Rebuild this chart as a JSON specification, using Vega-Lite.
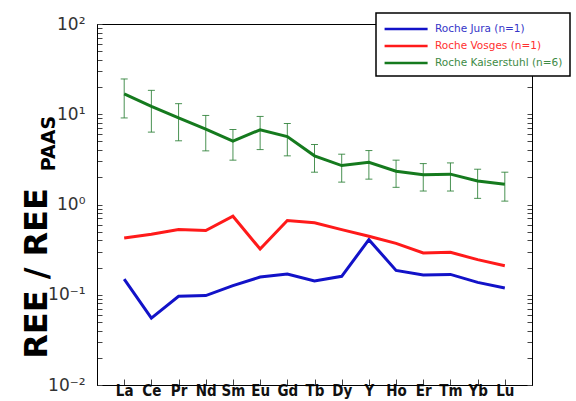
{
  "$schema": "https://vega.github.io/schema/vega-lite/v6.json",
  "width": 435,
  "height": 361,
  "autosize": {"type": "none"},
  "padding": {"left": 97, "top": 24, "right": 44, "bottom": 16},
  "background": "white",
  "config": {
    "view": {"stroke": "#000", "strokeWidth": 1},
    "axis": {"domainColor": "#000", "tickColor": "#444", "grid": false},
    "legend": {"strokeWidth": 1.5}
  },
  "datasets": {
    "ree": [
      {"el": "La", "series": "Roche Jura (n=1)", "v": 0.149},
      {"el": "Ce", "series": "Roche Jura (n=1)", "v": 0.055},
      {"el": "Pr", "series": "Roche Jura (n=1)", "v": 0.096},
      {"el": "Nd", "series": "Roche Jura (n=1)", "v": 0.098},
      {"el": "Sm", "series": "Roche Jura (n=1)", "v": 0.126},
      {"el": "Eu", "series": "Roche Jura (n=1)", "v": 0.157},
      {"el": "Gd", "series": "Roche Jura (n=1)", "v": 0.17},
      {"el": "Tb", "series": "Roche Jura (n=1)", "v": 0.142},
      {"el": "Dy", "series": "Roche Jura (n=1)", "v": 0.16},
      {"el": "Y", "series": "Roche Jura (n=1)", "v": 0.408},
      {"el": "Ho", "series": "Roche Jura (n=1)", "v": 0.186},
      {"el": "Er", "series": "Roche Jura (n=1)", "v": 0.166},
      {"el": "Tm", "series": "Roche Jura (n=1)", "v": 0.168},
      {"el": "Yb", "series": "Roche Jura (n=1)", "v": 0.137},
      {"el": "Lu", "series": "Roche Jura (n=1)", "v": 0.119},
      {"el": "La", "series": "Roche Vosges (n=1)", "v": 0.426},
      {"el": "Ce", "series": "Roche Vosges (n=1)", "v": 0.468},
      {"el": "Pr", "series": "Roche Vosges (n=1)", "v": 0.527},
      {"el": "Nd", "series": "Roche Vosges (n=1)", "v": 0.514},
      {"el": "Sm", "series": "Roche Vosges (n=1)", "v": 0.741},
      {"el": "Eu", "series": "Roche Vosges (n=1)", "v": 0.321},
      {"el": "Gd", "series": "Roche Vosges (n=1)", "v": 0.664},
      {"el": "Tb", "series": "Roche Vosges (n=1)", "v": 0.626},
      {"el": "Dy", "series": "Roche Vosges (n=1)", "v": 0.527},
      {"el": "Y", "series": "Roche Vosges (n=1)", "v": 0.444},
      {"el": "Ho", "series": "Roche Vosges (n=1)", "v": 0.371},
      {"el": "Er", "series": "Roche Vosges (n=1)", "v": 0.29},
      {"el": "Tm", "series": "Roche Vosges (n=1)", "v": 0.295},
      {"el": "Yb", "series": "Roche Vosges (n=1)", "v": 0.245},
      {"el": "Lu", "series": "Roche Vosges (n=1)", "v": 0.21},
      {"el": "La", "series": "Roche Kaiserstuhl (n=6)", "v": 16.8, "lo": 9.1, "hi": 24.6},
      {"el": "Ce", "series": "Roche Kaiserstuhl (n=6)", "v": 12.2, "lo": 6.34, "hi": 18.4},
      {"el": "Pr", "series": "Roche Kaiserstuhl (n=6)", "v": 9.1, "lo": 5.08, "hi": 13.1},
      {"el": "Nd", "series": "Roche Kaiserstuhl (n=6)", "v": 6.85, "lo": 3.93, "hi": 9.7},
      {"el": "Sm", "series": "Roche Kaiserstuhl (n=6)", "v": 5.04, "lo": 3.1, "hi": 6.78},
      {"el": "Eu", "series": "Roche Kaiserstuhl (n=6)", "v": 6.73, "lo": 4.06, "hi": 9.46},
      {"el": "Gd", "series": "Roche Kaiserstuhl (n=6)", "v": 5.66, "lo": 3.46, "hi": 7.9},
      {"el": "Tb", "series": "Roche Kaiserstuhl (n=6)", "v": 3.46, "lo": 2.28, "hi": 4.62},
      {"el": "Dy", "series": "Roche Kaiserstuhl (n=6)", "v": 2.7, "lo": 1.77, "hi": 3.61},
      {"el": "Y", "series": "Roche Kaiserstuhl (n=6)", "v": 2.94, "lo": 1.91, "hi": 3.96},
      {"el": "Ho", "series": "Roche Kaiserstuhl (n=6)", "v": 2.34, "lo": 1.55, "hi": 3.1},
      {"el": "Er", "series": "Roche Kaiserstuhl (n=6)", "v": 2.14, "lo": 1.41, "hi": 2.84},
      {"el": "Tm", "series": "Roche Kaiserstuhl (n=6)", "v": 2.17, "lo": 1.41, "hi": 2.89},
      {"el": "Yb", "series": "Roche Kaiserstuhl (n=6)", "v": 1.82, "lo": 1.17, "hi": 2.46},
      {"el": "Lu", "series": "Roche Kaiserstuhl (n=6)", "v": 1.68, "lo": 1.09, "hi": 2.28}
    ]
  },
  "data": {"name": "ree"},
  "encoding": {
    "x": {
      "field": "el",
      "type": "ordinal",
      "sort": ["La", "Ce", "Pr", "Nd", "Sm", "Eu", "Gd", "Tb", "Dy", "Y", "Ho", "Er", "Tm", "Yb", "Lu"],
      "scale": {"type": "point", "padding": 1},
      "axis": {
        "title": null,
        "labelAngle": 0,
        "labelFont": "DejaVu Sans Condensed",
        "labelFontWeight": "bold",
        "labelFontSize": 15,
        "labelColor": "#111",
        "tickSize": -6,
        "labelPadding": 4
      }
    }
  },
  "layer": [
    {
      "layer": [
        {
          "transform": [{"filter": "datum.series == 'Roche Kaiserstuhl (n=6)'"}],
          "mark": {"type": "errorbar", "ticks": true, "size": 7, "thickness": 1, "color": "#2a7f35", "opacity": 0.85},
          "encoding": {
            "y": {"field": "lo", "type": "quantitative", "title": "REE / REE", "scale": {"type": "log", "domain": [0.01, 100]}},
            "y2": {"field": "hi"}
          }
        },
        {
          "mark": {"type": "line", "strokeWidth": 3},
          "encoding": {
            "y": {
              "field": "v",
              "type": "quantitative",
              "title": "REE / REE",
              "scale": {"type": "log", "domain": [0.01, 100]},
              "axis": {
                "orient": "left",
                "values": [0.01, 0.02, 0.03, 0.04, 0.05, 0.06, 0.07, 0.08, 0.09, 0.1, 0.2, 0.3, 0.4, 0.5, 0.6, 0.7, 0.8, 0.9, 1, 2, 3, 4, 5, 6, 7, 8, 9, 10, 20, 30, 40, 50, 60, 70, 80, 90, 100],
                "labelExpr": "datum.value == 100 ? '10²' : datum.value == 10 ? '10¹' : datum.value == 1 ? '10⁰' : datum.value == 0.1 ? '10⁻¹' : datum.value == 0.01 ? '10⁻²' : ''",
                "labelFont": "DejaVu Sans",
                "labelFontSize": 17,
                "labelColor": "#333",
                "labelOverlap": false,
                "labelBound": false,
                "labelFlush": false,
                "tickSize": -5,
                "labelPadding": 17,
                "titleFont": "DejaVu Sans",
                "titleFontWeight": "bold",
                "titleFontSize": 32,
                "titleColor": "#000",
                "titleAngle": 270,
                "titleX": -61,
                "titleY": 249,
                "titleAlign": "center",
                "titleBaseline": "middle"
              }
            },
            "color": {
              "field": "series",
              "type": "nominal",
              "sort": ["Roche Jura (n=1)", "Roche Vosges (n=1)", "Roche Kaiserstuhl (n=6)"],
              "scale": {
                "domain": ["Roche Jura (n=1)", "Roche Vosges (n=1)", "Roche Kaiserstuhl (n=6)"],
                "range": ["#1212c8", "#ff1a1a", "#157a1e"]
              },
              "legend": {
                "title": null,
                "orient": "none",
                "legendX": 279,
                "legendY": -11,
                "fillColor": "white",
                "strokeColor": "#000",
                "padding": 7,
                "symbolType": "M-1,0H4.8",
                "symbolSize": 220,
                "symbolStrokeWidth": 2.5,
                "labelFont": "DejaVu Sans",
                "labelFontSize": 10.5,
                "labelOffset": 34,
                "rowPadding": 2,
                "labelLimit": 200,
                "encode": {
                  "labels": {
                    "update": {
                      "fill": {"signal": "datum.value == 'Roche Jura (n=1)' ? '#3535c8' : datum.value == 'Roche Vosges (n=1)' ? '#ff3030' : '#3d8a45'"}
                    }
                  }
                }
              }
            }
          }
        }
      ]
    },
    {
      "mark": {"type": "line", "opacity": 0},
      "encoding": {
        "y": {
          "field": "v",
          "type": "quantitative",
          "scale": {"type": "log", "domain": [0.01, 100]},
          "axis": {
            "orient": "right",
            "values": [0.01, 0.02, 0.03, 0.04, 0.05, 0.06, 0.07, 0.08, 0.09, 0.1, 0.2, 0.3, 0.4, 0.5, 0.6, 0.7, 0.8, 0.9, 1, 2, 3, 4, 5, 6, 7, 8, 9, 10, 20, 30, 40, 50, 60, 70, 80, 90, 100],
            "labels": false,
            "tickSize": -5,
            "title": "PAAS",
            "titleFont": "DejaVu Sans",
            "titleFontWeight": "bold",
            "titleFontSize": 19,
            "titleColor": "#000",
            "titleAngle": 270,
            "titleX": -484,
            "titleY": 119,
            "titleAlign": "center",
            "titleBaseline": "middle"
          }
        }
      }
    }
  ],
  "resolve": {"scale": {"y": "independent"}}
}
